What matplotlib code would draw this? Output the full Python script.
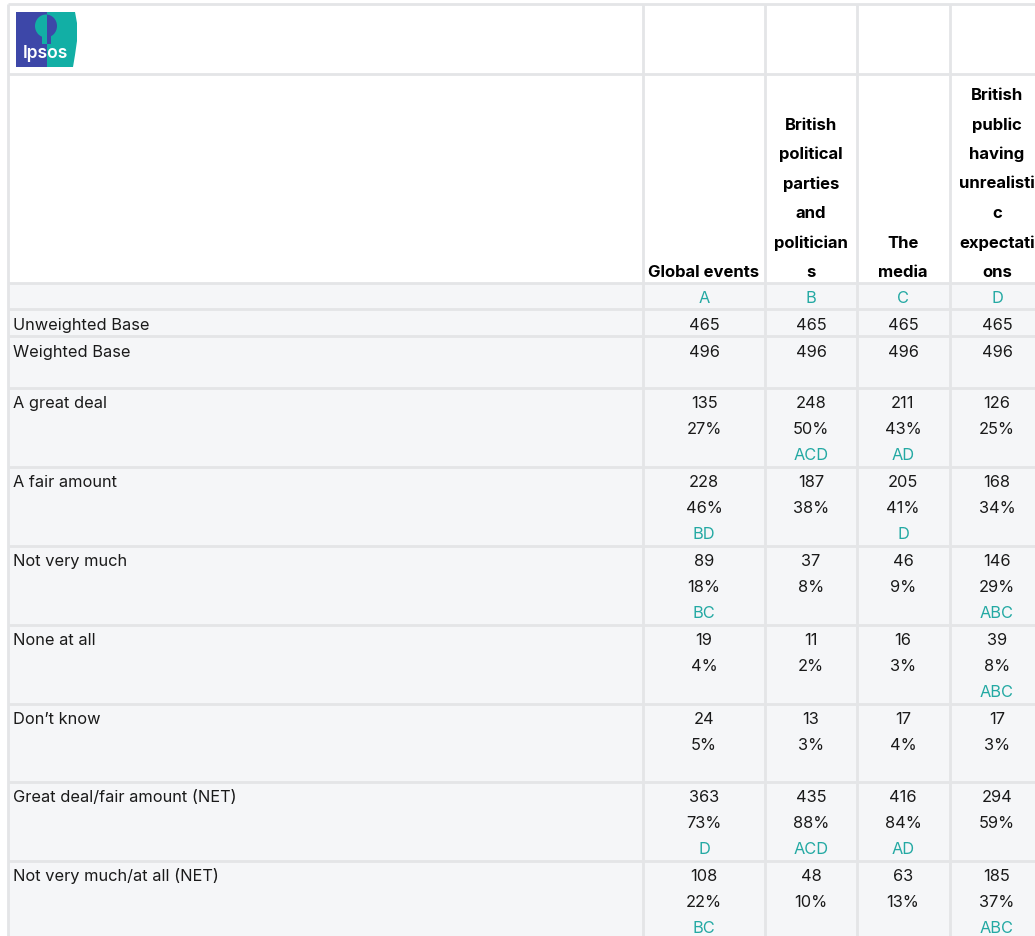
import matplotlib.pyplot as plt
from matplotlib.patches import Rectangle, Ellipse, Polygon

plt.rcParams['font.family'] = ['Inter', 'DejaVu Sans']

# ---- data ----
col_letters = ['A', 'B', 'C', 'D']
col_headers = [
    ['Global events'],
    ['British', 'political', 'parties', 'and', 'politician', 's'],
    ['The', 'media'],
    ['British', 'public', 'having', 'unrealisti', 'c', 'expectati', 'ons'],
]
base_labels = ['Unweighted Base', 'Weighted Base']
base_values = [[465, 465, 465, 465], [496, 496, 496, 496]]

row_labels = ['A great deal', 'A fair amount', 'Not very much', 'None at all',
              "Don\u2019t know", 'Great deal/fair amount (NET)',
              'Not very much/at all (NET)']
counts = [
    [135, 248, 211, 126],
    [228, 187, 205, 168],
    [89, 37, 46, 146],
    [19, 11, 16, 39],
    [24, 13, 17, 17],
    [363, 435, 416, 294],
    [108, 48, 63, 185],
]
pcts = [
    [27, 50, 43, 25],
    [46, 38, 41, 34],
    [18, 8, 9, 29],
    [4, 2, 3, 8],
    [5, 3, 4, 3],
    [73, 88, 84, 59],
    [22, 10, 13, 37],
]
sig = [
    ['', 'ACD', 'AD', ''],
    ['BD', '', 'D', ''],
    ['BC', '', '', 'ABC'],
    ['', '', '', 'ABC'],
    ['', '', '', ''],
    ['D', 'ACD', 'AD', ''],
    ['BC', '', '', 'ABC'],
]

# ---- layout ----
W, H = 1035, 937
left = 8
col_edges = [643, 765, 857, 950, 1043]
col_centers = [704, 811, 903, 997]
h_lines = [5, 75, 284, 310, 337, 389, 468, 547, 626, 705, 783, 862, 941]
line_gap = 26
grid_c = '#E4E5E7'
bg_c = '#F5F6F8'
teal = '#23A9A3'
txt_c = '#1A1A1A'
fs = 11.8
fs_head = 12
blue = '#3D47A8'
logo_teal = '#12AFA5'

fig = plt.figure(figsize=(W / 100, H / 100), dpi=100, facecolor='white')
ax = fig.add_axes([0, 0, 1, 1])
ax.set_xlim(0, W)
ax.set_ylim(H, 0)
ax.axis('off')

# body background
ax.add_patch(Rectangle((left, h_lines[2]), W - left, H - h_lines[2],
                       facecolor=bg_c, edgecolor='none', zorder=0))

# grid lines
for y in h_lines:
    ax.plot([left, W], [y, y], color=grid_c, lw=2, zorder=1,
            solid_capstyle='butt')
for x in [left] + col_edges[:-1]:
    ax.plot([x, x], [h_lines[0], H], color=grid_c, lw=2, zorder=1,
            solid_capstyle='butt')

# logo: blue left half, teal right half with a head split between them
blue_box = Rectangle((16, 13), 31, 55, facecolor=blue, edgecolor='none',
                     zorder=2)
teal_box = Polygon([(47, 13), (75, 13), (77, 24), (77, 42), (75, 56),
                    (73, 68), (47, 68)], closed=True,
                   facecolor=logo_teal, edgecolor='none', zorder=2)
ax.add_patch(blue_box)
ax.add_patch(teal_box)
for col, clip in [(logo_teal, blue_box), (blue, teal_box)]:
    head = Ellipse((46, 27), 22, 23, facecolor=col, edgecolor='none',
                   zorder=3)
    neck = Rectangle((42, 34), 9, 11, facecolor=col, edgecolor='none',
                     zorder=3)
    for p in (head, neck):
        ax.add_patch(p)
        p.set_clip_path(clip)
ax.text(45, 53, 'Ipsos', color='white', fontsize=12.5, fontweight='semibold',
        ha='center', va='center', zorder=4)

# header texts
head_step = 29.5
head_bottom = 272.5
for ci, lines in enumerate(col_headers):
    n = len(lines)
    for li, s in enumerate(lines):
        y = head_bottom - (n - 1 - li) * head_step
        ax.text(col_centers[ci], y, s, fontsize=fs_head, fontweight='bold',
                color='black', ha='center', va='center', zorder=4)

# letter row
for ci, L in enumerate(col_letters):
    ax.text(col_centers[ci], 298.5, L, fontsize=fs, color=teal,
            ha='center', va='center', zorder=4)

# base rows
for ri, lab in enumerate(base_labels):
    y = h_lines[3 + ri] + 15.5
    ax.text(13, y, lab, fontsize=fs, color=txt_c, ha='left', va='center')
    for ci, v in enumerate(base_values[ri]):
        ax.text(col_centers[ci], y, str(v), fontsize=fs, color=txt_c,
                ha='center', va='center')

# answer rows
for ri, lab in enumerate(row_labels):
    top = h_lines[5 + ri]
    y0 = top + 14.5
    ax.text(13, y0, lab, fontsize=fs, color=txt_c, ha='left', va='center')
    for ci in range(4):
        x = col_centers[ci]
        ax.text(x, y0, str(counts[ri][ci]), fontsize=fs, color=txt_c,
                ha='center', va='center')
        ax.text(x, y0 + line_gap, f'{pcts[ri][ci]}%', fontsize=fs,
                color=txt_c, ha='center', va='center')
        if sig[ri][ci]:
            ax.text(x, y0 + 2 * line_gap, sig[ri][ci], fontsize=fs,
                    color=teal, ha='center', va='center')

fig.savefig('out.png', dpi=100, facecolor='white')
